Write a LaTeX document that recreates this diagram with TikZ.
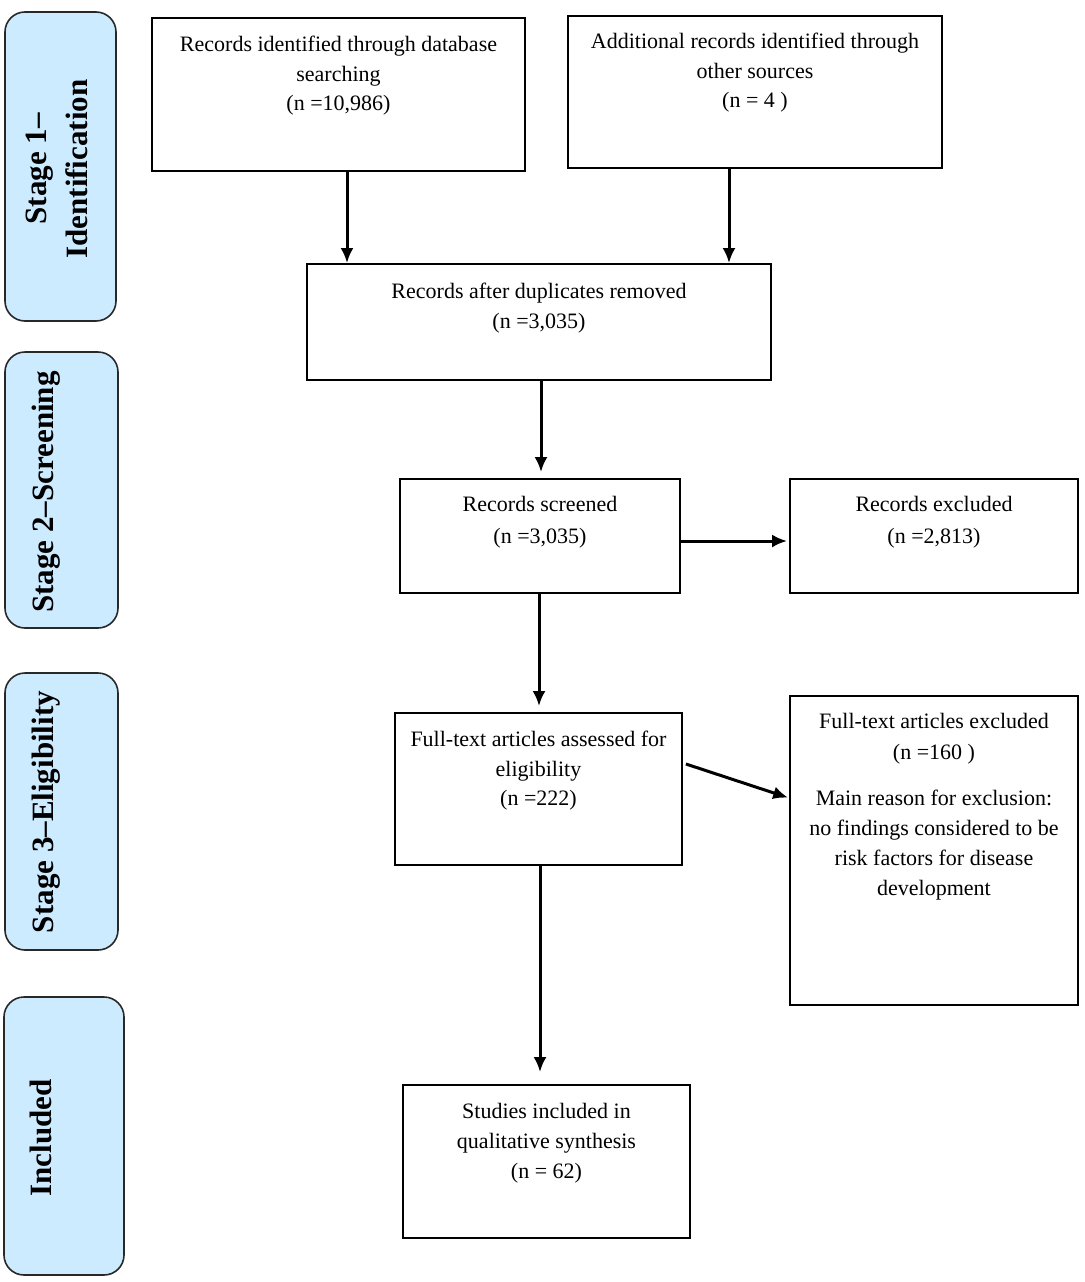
\documentclass[tikz,border=0pt]{standalone}
\usepackage{fontspec}
\setmainfont{Liberation Serif}
\usetikzlibrary{arrows.meta,calc}
\definecolor{stagefill}{RGB}{205,235,255}
\definecolor{stageline}{RGB}{40,40,40}
\begin{document}
\begin{tikzpicture}[x=1pt,y=-1pt,
  box/.style={draw=black,line width=1.8pt,inner sep=0pt,fill=white},
  stagebox/.style={draw=stageline,line width=1.6pt,fill=stagefill,rounded corners=20pt,inner sep=0pt},
  stagetxt/.style={rotate=90,inner sep=0pt,align=center,font=\fontsize{31}{41}\selectfont\bfseries},
  lbl/.style={inner sep=0pt,align=center,anchor=north,font=\fontsize{22}{29.5}\selectfont},
  arr/.style={line width=3pt,-{Latex[length=15pt,width=13pt]}}]
\useasboundingbox (0,0) rectangle (1084,1282);
\fill[white] (0,0) rectangle (1084,1282);

% stage boxes
\node[stagebox,minimum width=111pt,minimum height=309pt] (S1) at (60.5,166.5) {};
\node[stagebox,minimum width=113pt,minimum height=276pt] (S2) at (61.5,490) {};
\node[stagebox,minimum width=113pt,minimum height=277pt] (S3) at (61.5,811.5) {};
\node[stagebox,minimum width=120pt,minimum height=278pt] (S4) at (64,1136) {};
\node[stagetxt] (T1) at (57,169) {Stage 1–\\Identification};
\node[stagetxt] (T2) at (46,492) {Stage 2–Screening};
\node[stagetxt] (T3) at (46,812) {Stage 3–Eligibility};
\node[stagetxt] (T4) at (41,1138) {Included};

% flow boxes
\node[box,minimum width=373pt,minimum height=153pt] (A) at (338.5,94.5) {};
\node[box,minimum width=374pt,minimum height=152pt] (B) at (755,92) {};
\node[box,minimum width=464pt,minimum height=116pt] (C) at (539,322) {};
\node[box,minimum width=280pt,minimum height=114pt] (D) at (540,536) {};
\node[box,minimum width=288pt,minimum height=114pt] (E) at (934,536) {};
\node[box,minimum width=287pt,minimum height=152pt] (F) at (538.5,789) {};
\node[box,minimum width=288pt,minimum height=309pt] (G) at (934,850.5) {};
\node[box,minimum width=287pt,minimum height=153pt] (H) at (546.5,1161.5) {};

% texts
\node[lbl] (At) at (A.north |- {(0,36)}) {Records identified through database\\searching\\(n =10,986)};
\node[lbl] (Bt) at (B.north |- {(0,33)}) {Additional records identified through\\other sources\\(n = 4 )};
\node[lbl] (Ct) at (C.north |- {(0,283)}) {Records after duplicates removed\\(n =3,035)};
\node[lbl,font=\fontsize{22}{32}\selectfont] (Dt) at (D.north |- {(0,496)}) {Records screened\\(n =3,035)};
\node[lbl,font=\fontsize{22}{32}\selectfont] (Et) at (E.north |- {(0,496)}) {Records excluded\\(n =2,813)};
\node[lbl] (Ft) at (F.north |- {(0,731)}) {Full-text articles assessed for\\eligibility\\(n =222)};
\node[lbl,font=\fontsize{22}{31}\selectfont] (Gt) at (G.north |- {(0,713)}) {Full-text articles excluded\\(n =160 )};
\node[lbl,font=\fontsize{22}{30}\selectfont] (Gt2) at (G.north |- {(0,790)}) {Main reason for exclusion:\\no findings considered to be\\risk factors for disease\\development};
\node[lbl,font=\fontsize{22}{30}\selectfont] (Ht) at (H.north |- {(0,1103)}) {Studies included in\\qualitative synthesis\\(n = 62)};

% connectors
\draw[arr] ([xshift=8.5pt]A.south) -- ([xshift=8.5pt]A.south |- C.north);
\draw[arr] ([xshift=-26pt]B.south) -- ([xshift=-26pt]B.south |- C.north);
\draw[arr,shorten >=6pt] ([xshift=2pt]C.south) -- ([xshift=2pt]C.south |- D.north);
\draw[arr,shorten >=2pt] ([yshift=-5pt]D.east) -- ([yshift=-5pt]D.east -| E.west);
\draw[arr,shorten >=6pt] ([xshift=-1pt]D.south) -- ([xshift=-1pt]D.south |- F.north);
\draw[arr,shorten >=1pt] ([yshift=25pt,xshift=3pt]F.east) -- ([yshift=52.5pt]G.west);
\draw[arr,shorten >=12pt] ([xshift=1.5pt]F.south) -- ([xshift=1.5pt]F.south |- H.north);
\end{tikzpicture}
\end{document}
